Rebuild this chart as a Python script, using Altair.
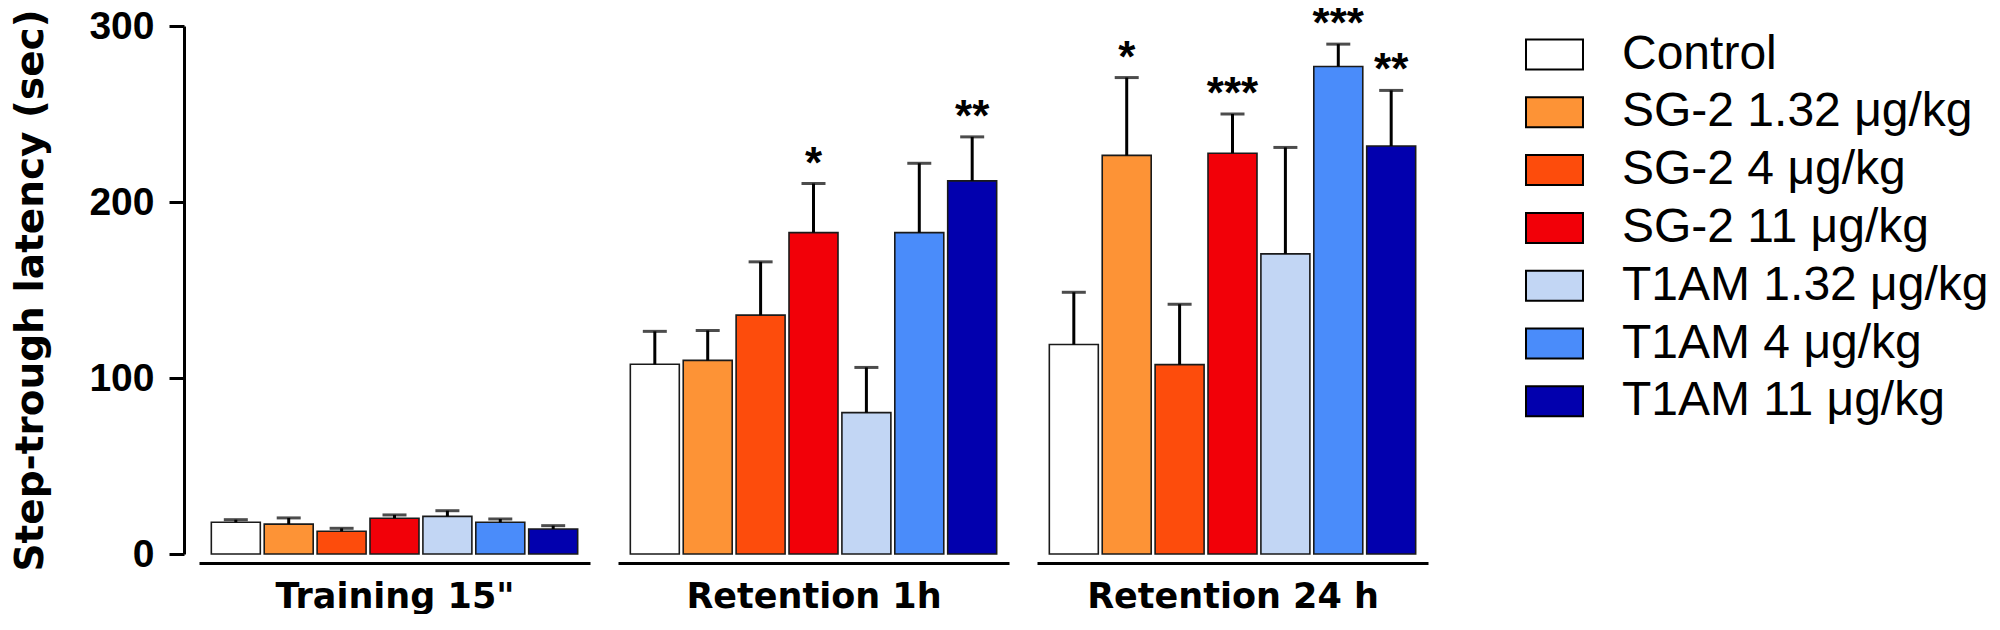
import altair as alt
import pandas as pd

# ---- data ----
treatments = ["Control", "SG-2 1.32 μg/kg", "SG-2 4 μg/kg", "SG-2 11 μg/kg",
              "T1AM 1.32 μg/kg", "T1AM 4 μg/kg", "T1AM 11 μg/kg"]
colors = ["#FFFFFF", "#FD9336", "#FD4C0C", "#F20008", "#C2D6F4", "#4A8CFA", "#0200AE"]
groups = ['Training 15"', "Retention 1h", "Retention 24 h"]

training_mean = [18.0, 17.0, 12.9, 20.3, 21.4, 18.0, 14.2]
training_upper = [19.5, 20.5, 14.6, 22.2, 24.6, 19.9, 16.1]
training_star = ["", "", "", "", "", "", ""]

ret1h_mean = [107.8, 110.0, 135.7, 182.6, 80.3, 182.6, 212.0]
ret1h_upper = [126.5, 127.0, 166.0, 210.5, 106.0, 222.0, 237.0]
ret1h_star = ["", "", "", "*", "", "", "**"]

ret24h_mean = [119.0, 226.5, 107.6, 227.7, 170.5, 277.0, 231.8]
ret24h_upper = [148.7, 270.7, 141.9, 250.0, 231.0, 289.7, 263.4]
ret24h_star = ["", "*", "", "***", "", "***", "**"]

y_title = "Step-trough latency (sec)"
y_ticks = [0, 100, 200, 300]

rows = []
for g, means, uppers, stars in zip(
        groups,
        [training_mean, ret1h_mean, ret24h_mean],
        [training_upper, ret1h_upper, ret24h_upper],
        [training_star, ret1h_star, ret24h_star]):
    for t, m, u, s in zip(treatments, means, uppers, stars):
        rows.append({"group": g, "treatment": t, "mean": m, "upper": u, "star": s})
df = pd.DataFrame(rows)

BOLD_TITLE_FONT = "DejaVu Sans"


def panel(g, first):
    base = alt.Chart(df).transform_filter(alt.datum.group == g)
    x = alt.X(
        "treatment:N", sort=treatments,
        scale=alt.Scale(paddingInner=0.074, paddingOuter=0.233),
        axis=alt.Axis(title=g, labels=False, ticks=False, domainWidth=3,
                      domainColor="black", offset=9,
                      titleFont=BOLD_TITLE_FONT, titleFontWeight="bold",
                      titleFontSize=35, titleColor="black", titlePadding=16),
    )
    yscale = alt.Scale(domain=[0, 300], nice=False)
    if first:
        yaxis = alt.Axis(values=y_ticks, grid=False, domainWidth=3, domainColor="black",
                         tickWidth=3, tickColor="black", tickSize=15, offset=15,
                         labelFont="Liberation Sans", labelFontWeight="bold",
                         labelFontSize=39, labelColor="black", labelPadding=15,
                         titleFont=BOLD_TITLE_FONT, titleFontWeight="bold",
                         titleFontSize=39, titleColor="black", titlePadding=38)
        legend = alt.Legend(title=None, orient="right", offset=98,
                            symbolType="M-1.163,-0.612H1.163V0.612H-1.163Z",
                            symbolSize=2401,
                            symbolStrokeColor="black", symbolStrokeWidth=2,
                            symbolOpacity=1,
                            labelFont="Liberation Sans", labelFontSize=48,
                            labelColor="black", labelOffset=42, rowPadding=7.8,
                            padding=3, labelLimit=0)
    else:
        yaxis = None
        legend = None

    bars = base.mark_bar(stroke="#1a1a1a", strokeWidth=1.6).encode(
        x=x,
        y=alt.Y("mean:Q", scale=yscale, axis=yaxis, title=y_title),
        fill=alt.Fill("treatment:N", scale=alt.Scale(domain=treatments, range=colors),
                      legend=legend),
    )
    rules = base.mark_rule(strokeWidth=3, color="black").encode(
        x=x, y=alt.Y("mean:Q", title=y_title), y2="upper:Q")
    caps = base.mark_tick(size=24, thickness=3, color="black").encode(
        x=x, y=alt.Y("upper:Q", title=y_title))
    stars = base.mark_text(font="Liberation Sans", fontWeight="bold", fontSize=44,
                           baseline="alphabetic", dy=-6, color="black").encode(
        x=x, y=alt.Y("upper:Q", title=y_title), text="star:N")
    return alt.layer(bars, rules, caps, stars).properties(width=391, height=528)


chart = alt.hconcat(
    panel(groups[0], True), panel(groups[1], False), panel(groups[2], False),
    spacing=28, bounds="flush",
).resolve_scale(fill="shared").properties(
    padding={"left": 3, "top": -5, "right": 0, "bottom": 0}
).configure_view(stroke=None)

chart.save("out.html", embed_options={"renderer": "svg", "actions": False})
